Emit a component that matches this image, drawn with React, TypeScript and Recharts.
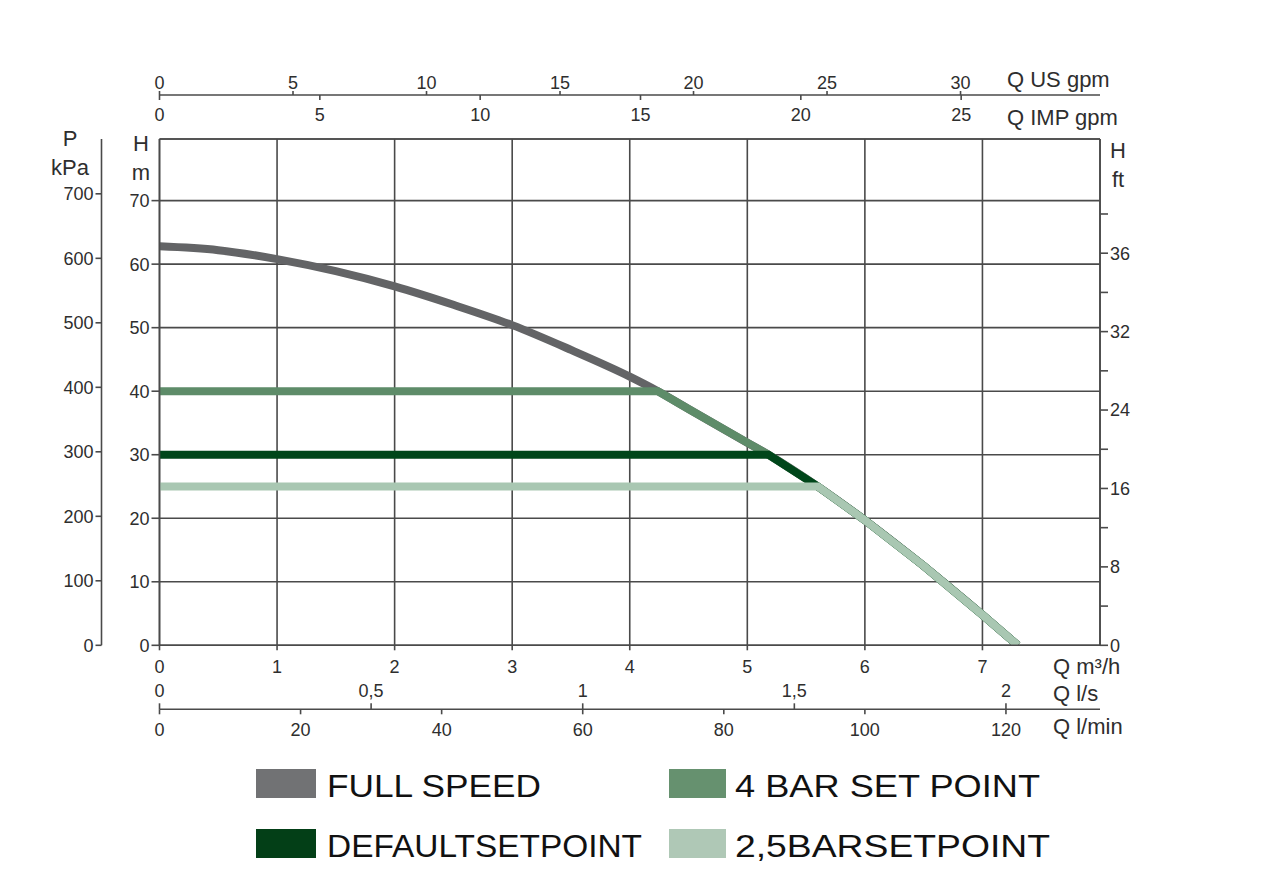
import { LineChart, Line, XAxis, YAxis, CartesianGrid } from "recharts";

// flow rate in m3/h, heads in m
const flowQ = [0, 0.5, 1, 1.5, 2, 2.5, 3, 3.5, 4, 4.24, 4.5, 5, 5.18, 5.6, 6, 6.5, 7, 7.3];
const fullSpeedH = [62.8, 62.2, 60.8, 58.9, 56.5, 53.6, 50.4, 46.5, 42.3, 40, 37.2, 31.9, 30, 25, 19.7, 12.5, 4.8, 0];
const bar4H = [40, 40, 40, 40, 40, 40, 40, 40, 40, 40, 37.2, 31.9, 30, 25, 19.7, 12.5, 4.8, 0];
const defaultH = [30, 30, 30, 30, 30, 30, 30, 30, 30, 30, 30, 30, 30, 25, 19.7, 12.5, 4.8, 0];
const bar25H = [25, 25, 25, 25, 25, 25, 25, 25, 25, 25, 25, 25, 25, 25, 19.7, 12.5, 4.8, 0];

const seriesKeys = ["full", "bar4", "def", "bar25"];
const seriesNames = ["FULL SPEED", "4 BAR SET POINT", "DEFAULTSETPOINT", "2,5BARSETPOINT"];
const seriesColors = ["#636466", "#5e8c69", "#00461a", "#a9c7b2"];
const legendColors = ["#717274", "#66916f", "#033f17", "#afc8b6"];

// axis ranges / ticks
const qMax = 8;
const hMax = 79.7;
const kpaMax = 785;
const ftMax = 51.65;
const usPerM3h = 4.4029;
const impPerM3h = 3.6662;
const lpsPerM3h = 1 / 3.6;
const lpmPerM3h = 1000 / 60;

const m3hTicks = [0, 1, 2, 3, 4, 5, 6, 7];
const usTicks = [0, 5, 10, 15, 20, 25, 30];
const impTicks = [0, 5, 10, 15, 20, 25];
const lpsTicks = [0, 0.5, 1, 1.5, 2];
const lpsLabels = ["0", "0,5", "1", "1,5", "2"];
const lpmTicks = [0, 20, 40, 60, 80, 100, 120];
const hmTicks = [0, 10, 20, 30, 40, 50, 60, 70];
const kpaTicks = [0, 100, 200, 300, 400, 500, 600, 700];
const ftTicks = [0, 4, 8, 12, 16, 20, 24, 28, 32, 36, 40, 44];
const ftTickLabels = ["0", "", "8", "", "16", "", "24", "", "32", "", "36", ""];

const rows = flowQ.map((q, i) => ({
  q,
  full: fullSpeedH[i],
  bar4: bar4H[i],
  def: defaultH[i],
  bar25: bar25H[i],
}));

// secondary flow scales placed on the m3/h scale (US above / IMP below the top line,
// l/s above / l/min below the bottom line)
const topTickQ = [...usTicks.map((v) => v / usPerM3h), ...impTicks.map((v) => v / impPerM3h)];
const topLabels = [...usTicks.map(String), ...impTicks.map(String)];
const bottomTickQ = [...lpsTicks.map((v) => v / lpsPerM3h), ...lpmTicks.map((v) => v / lpmPerM3h)];
const bottomLabels = [...lpsLabels, ...lpmTicks.map(String)];

const AXIS = "#4a4a4a";
const TXT = "#2e2e2e";
const FONT = "'Liberation Sans', Arial, sans-serif";
const tickStyle = { fontSize: 18, fill: TXT, fontFamily: FONT };
const lineStyle = { stroke: AXIS, strokeWidth: 1.6 };
const Q_DOMAIN = [0, qMax];
const H_DOMAIN = [0, hMax];
const KPA_DOMAIN = [0, kpaMax];
const FT_DOMAIN = [0, ftMax];
const MARGIN = { top: 47, right: 112, bottom: 18.7, left: 33.5 };
const LEGEND_TEXT_W = [214, 305, 315, 315];

const TopTick = (props: any) => {
  const { x, y, index } = props;
  const up = index < usTicks.length;
  return (
    <g>
      <line x1={x} y1={up ? y - 4 : y} x2={x} y2={up ? y : y + 5} stroke={AXIS} strokeWidth={1.6} />
      <text x={x} y={up ? y - 6 : y + 26} textAnchor="middle" {...tickStyle}>
        {topLabels[index]}
      </text>
    </g>
  );
};

const BottomTick = (props: any) => {
  const { x, y, index } = props;
  const up = index < lpsTicks.length;
  return (
    <g>
      <line x1={x} y1={up ? y - 6 : y} x2={x} y2={up ? y : y + 5} stroke={AXIS} strokeWidth={1.6} />
      <text x={x} y={up ? y - 12 : y + 27} textAnchor="middle" {...tickStyle}>
        {bottomLabels[index]}
      </text>
    </g>
  );
};

const topTickEl = <TopTick />;
const bottomTickEl = <BottomTick />;
const ftFormat = (v: number) => ftTickLabels[ftTicks.indexOf(v)] ?? "";

const titleStyle = { fontSize: 22, fill: TXT, fontFamily: FONT };

// axes on one side are stacked outward in order of their ids
export default function App() {
  return (
    <div style={{ position: "relative", width: 1264, height: 867, background: "#fff" }}>
      <LineChart width={1264} height={760} data={rows} margin={MARGIN}>
        <CartesianGrid xAxisId="plot" yAxisId="y1hm" stroke={AXIS} strokeWidth={1.6} />

        {/* hidden scale used by the curves and the grid */}
        <XAxis xAxisId="plot" hide dataKey="q" type="number" domain={Q_DOMAIN}
          allowDataOverflow ticks={m3hTicks} interval={0} />

        <XAxis xAxisId="t1frame" orientation="top" dataKey="q" type="number" domain={Q_DOMAIN}
          allowDataOverflow height={44} tick={false} tickLine={false} axisLine={lineStyle} />
        <XAxis xAxisId="t2gpm" orientation="top" dataKey="q" type="number" domain={Q_DOMAIN}
          allowDataOverflow ticks={topTickQ} interval={0} height={40} tickSize={0} tickMargin={0}
          axisLine={lineStyle} tickLine={false} tick={topTickEl} />

        <XAxis xAxisId="b1m3h" orientation="bottom" dataKey="q" type="number" domain={Q_DOMAIN}
          allowDataOverflow ticks={m3hTicks} interval={0} height={64} tickSize={5} tickMargin={10}
          axisLine={lineStyle} tickLine={lineStyle} tick={tickStyle} />
        <XAxis xAxisId="b2litres" orientation="bottom" dataKey="q" type="number" domain={Q_DOMAIN}
          allowDataOverflow ticks={bottomTickQ} interval={0} height={40} tickSize={0} tickMargin={0}
          axisLine={lineStyle} tickLine={false} tick={bottomTickEl} />

        <YAxis yAxisId="y1hm" type="number" domain={H_DOMAIN} allowDataOverflow ticks={hmTicks}
          interval={0} width={58} tickSize={8} tickMargin={2}
          axisLine={lineStyle} tickLine={lineStyle} tick={tickStyle} />
        <YAxis yAxisId="y2kpa" type="number" domain={KPA_DOMAIN} allowDataOverflow ticks={kpaTicks}
          interval={0} width={60} tickSize={6} tickMargin={2}
          axisLine={lineStyle} tickLine={lineStyle} tick={tickStyle} />
        <YAxis yAxisId="y3ft" orientation="right" type="number" domain={FT_DOMAIN} allowDataOverflow
          ticks={ftTicks} interval={0} width={60} tickSize={8} tickMargin={2}
          tickFormatter={ftFormat} axisLine={lineStyle} tickLine={lineStyle} tick={tickStyle} />

        {seriesKeys.map((k, i) => (
          <Line
            key={k}
            xAxisId="plot"
            yAxisId="y1hm"
            type={i === 0 ? "monotone" : "linear"}
            dataKey={k}
            name={seriesNames[i]}
            stroke={seriesColors[i]}
            strokeWidth={8}
            dot={false}
            activeDot={false}
            isAnimationActive={false}
          />
        ))}
      </LineChart>

      <svg width={1264} height={867} style={{ position: "absolute", left: 0, top: 0, pointerEvents: "none" }}>
        <text x={62} y={138} textAnchor="middle" {...titleStyle}>P</text>
        <text x={62} y={167} textAnchor="middle" {...titleStyle}>kPa</text>
        <text x={133} y={143} textAnchor="middle" {...titleStyle}>H</text>
        <text x={133} y={172} textAnchor="middle" {...titleStyle}>m</text>
        <text x={1110} y={150} textAnchor="middle" {...titleStyle}>H</text>
        <text x={1110} y={179} textAnchor="middle" {...titleStyle}>ft</text>
        <text x={999} y={79} {...titleStyle}>Q US gpm</text>
        <text x={999} y={117} {...titleStyle}>Q IMP gpm</text>
        <text x={1045} y={666} {...titleStyle}>Q m³/h</text>
        <text x={1045} y={693} {...titleStyle}>Q l/s</text>
        <text x={1045} y={726} {...titleStyle}>Q l/min</text>

        {seriesNames.map((name, si) => {
          const col = si % 2;
          const row = Math.floor(si / 2);
          const sx = col === 0 ? 248 : 661;
          const sy = row === 0 ? 761 : 821;
          return (
            <g key={name}>
              <rect x={sx} y={sy} width={col === 0 ? 60 : 57} height={29} fill={legendColors[si]} />
              <text x={col === 0 ? 319 : 727} y={sy + 28} fontSize={31} fill="#111" fontFamily={FONT}
                textLength={LEGEND_TEXT_W[si]} lengthAdjust="spacingAndGlyphs">
                {name}
              </text>
            </g>
          );
        })}
      </svg>
    </div>
  );
}
